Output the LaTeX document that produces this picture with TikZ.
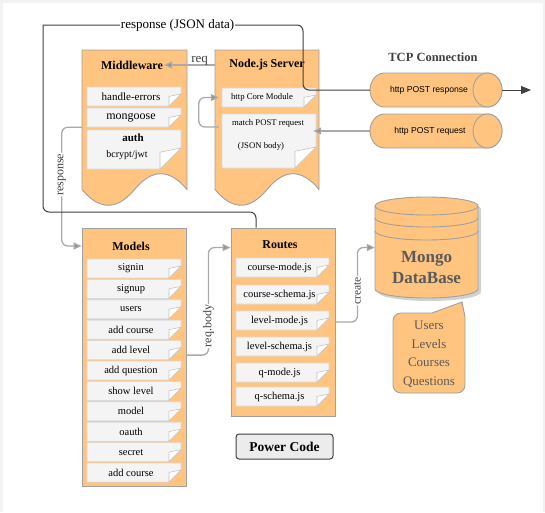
\documentclass[tikz,border=0pt]{standalone}
\usepackage{fontspec}
\setmainfont{Liberation Serif}
\newfontfamily\sansf{Liberation Sans}
\usetikzlibrary{arrows.meta,calc}
\definecolor{org}{HTML}{FFC47F}
\definecolor{orgline}{HTML}{A0A0A0}
\definecolor{itemfill}{HTML}{F4F4F4}
\definecolor{itemline}{HTML}{DADADA}
\definecolor{foldline}{HTML}{C4C4C4}
\definecolor{garr}{HTML}{AAAAAA}
\definecolor{darkl}{HTML}{404040}
\definecolor{dbtext}{HTML}{5A5A5A}
\newcommand\noteitem[7]{%
  \draw[itembox] ({#2-#4/2},{#3-#5/2}) -- ({#2+#4/2},{#3-#5/2}) -- ({#2+#4/2},{#3+#5/2-#6})
     -- ({#2+#4/2-#6},{#3+#5/2}) -- ({#2-#4/2},{#3+#5/2}) -- cycle;
  \draw[foldst] ({#2+#4/2},{#3+#5/2-#6}) -- ({#2+#4/2-#6},{#3+#5/2-0.8*#6}) -- ({#2+#4/2-#6},{#3+#5/2}) -- cycle;
  \node[itemtext, minimum width=#4, minimum height=#5] (#1) at ({#2-3},{#3}) {#7};
}
\newcommand\docshape[5]{%
  \draw[orgshape] (#1,#2) -- ({#1+#3},#2) -- ({#1+#3},{#2+#4-#5/2})
   .. controls ({#1+0.8333*#3},{#2+#4-1.1*#5}) and ({#1+0.6667*#3},{#2+#4-1.1*#5}) .. ({#1+0.5*#3},{#2+#4-#5/2})
   .. controls ({#1+0.3333*#3},{#2+#4+0.1*#5}) and ({#1+0.1667*#3},{#2+#4+0.1*#5}) .. (#1,{#2+#4-#5/2}) -- cycle;
}
\newcommand\hcyl[5]{%
  \draw[orgshape] ({#1-#3/2+#5},{#2-#4/2}) arc[start angle=90,end angle=270,x radius=#5pt,y radius={#4/2*1pt}]
     -- ({#1+#3/2-#5},{#2+#4/2}) arc[start angle=270,end angle=450,x radius=#5pt,y radius={#4/2*1pt}] -- cycle;
  \draw[orgshape] ({#1+#3/2-#5},#2) ellipse[x radius=#5pt,y radius={#4/2*1pt}];
}
\tikzset{
  orgshape/.style={fill=org, draw=orgline, line width=0.9pt},
  itembox/.style={fill=itemfill, draw=itemline, line width=0.7pt},
  foldst/.style={fill=white, draw=foldline, line width=0.6pt},
  itemtext/.style={inner sep=0pt, font=\fontsize{10.5}{12}\selectfont},
  ghost/.style={inner sep=0pt, draw=none, fill=none},
  title/.style={inner sep=1pt, font=\bfseries\fontsize{12}{14}\selectfont},
  garrow/.style={draw=garr, line width=1.3pt, -{Triangle[length=8pt,width=7pt,fill=garr!85!black]}, rounded corners=6pt},
  dline/.style={draw=darkl, line width=1pt},
  vlabel/.style={rotate=90, fill=white, inner sep=1pt, text=darkl, font=\fontsize{12}{14}\selectfont},
}
\begin{document}
\begin{tikzpicture}[x=1pt,y=-1pt]
\useasboundingbox (0,0) rectangle (545,512);
\fill[gray!10] (0,0) rectangle (545,512);
\fill[white] (2.5,2.5) rectangle (542.5,513);

% Middleware
\docshape{82}{50}{105}{157}{35}
\node[ghost, minimum width=105, minimum height=157] (mw) at (134.5,128.5) {};
\node[title] (mwt) at (132,65) {Middleware};
\noteitem{he}{134}{96.5}{94}{19}{12}{\fontsize{11}{12}\selectfont handle-errors}
\noteitem{mg}{134}{117.5}{94}{19}{12}{\fontsize{12}{13}\selectfont mongoose}
\noteitem{au}{134}{149.5}{94}{39}{21}{}
\node[inner sep=0pt, font=\bfseries\fontsize{11}{12}\selectfont] (aut) at (133,138) {auth};
\node[inner sep=0pt, font=\fontsize{10}{12}\selectfont] (bcr) at (127,155) {bcrypt/jwt};

% Node.js server
\docshape{215}{50}{104}{157}{35}
\node[ghost, minimum width=104, minimum height=157] (ns) at (267,128.5) {};
\node[title] (nst) at (267,65) {Node.js Server};
\noteitem{hc}{269}{97.5}{94}{19}{12}{\hspace*{-8pt}\fontsize{8.7}{10}\selectfont http Core Module}
\noteitem{mp}{269}{141}{94}{54}{21}{}
\node[inner sep=0pt, font=\fontsize{8.7}{10}\selectfont] (mpt) at (268,123) {match POST request};
\node[inner sep=0pt, font=\fontsize{8.7}{10}\selectfont] (jsb) at (261,146) {(JSON body)};

% TCP connection
\node[inner sep=0pt, text=darkl, font=\bfseries\fontsize{12.5}{14}\selectfont] (tcp) at (433,57) {TCP Connection};
\hcyl{436}{90}{132}{34}{14.5}
\node[ghost, minimum width=132, minimum height=34] (cr) at (436,90) {};
\node[inner sep=0pt, font=\sansf\fontsize{8.6}{10}\selectfont] (crt) at (429,90) {http POST response};
\hcyl{436}{131}{132}{34}{14.5}
\node[ghost, minimum width=132, minimum height=34] (cq) at (436,131) {};
\node[inner sep=0pt, font=\sansf\fontsize{8.6}{10}\selectfont] (cqt) at (430,131) {http POST request};

% Models
\node[orgshape, minimum width=104, minimum height=258, inner sep=0pt] (md) at (134,357) {};
\node[title] (mdt) at (131,246) {Models};
\foreach \t [count=\i] in {signin,signup,users,add course,add level,add question,show level,model,oauth,secret,add course}
  {\noteitem{m\i}{134}{268.5+20.4*(\i-1)}{94}{19}{12}{\t}}

% Routes
\node[orgshape, minimum width=104, minimum height=188, inner sep=0pt] (rt) at (283,322) {};
\node[title] (rtt) at (280,245) {Routes};
\foreach \t/\yy [count=\i] in {course-mode.js/267.5,course-schema.js/294.5,level-mode.js/320.5,level-schema.js/346.5,q-mode.js/372.5,q-schema.js/396.5}
  {\noteitem{r\i}{282.5}{\yy}{93}{19}{12}{\t}}

% Power Code
\node[draw=darkl, fill=gray!15, line width=1pt, rounded corners=3pt, minimum width=97, minimum height=25, inner sep=0pt,
  font=\bfseries\fontsize{13.5}{15}\selectfont] (pc) at (284.5,446.5) {Power Code};

% Mongo DB
\fill[black, opacity=0.18] (378,209) -- (378,292) arc[start angle=180,end angle=360,x radius=51.5pt,y radius=9pt] -- (481,209) arc[start angle=0,end angle=180,x radius=51.5pt,y radius=9pt] -- cycle;
\draw[orgshape] (375,206) -- (375,289) arc[start angle=180,end angle=360,x radius=51.5pt,y radius=9pt] -- (478,206) arc[start angle=0,end angle=180,x radius=51.5pt,y radius=9pt] -- cycle;
\draw[orgshape, fill=none] (375,206) arc[start angle=180,end angle=360,x radius=51.5pt,y radius=9pt];
\draw[orgshape, fill=none] (375,218) arc[start angle=180,end angle=360,x radius=51.5pt,y radius=9pt];
\draw[orgshape, fill=none] (375,231) arc[start angle=180,end angle=360,x radius=51.5pt,y radius=9pt];
\node[ghost, minimum width=103, minimum height=101] (db) at (426.5,247.5) {};
\node[inner sep=0pt, align=center, text=dbtext, font=\bfseries\fontsize{17}{21}\selectfont] (dbt) at (426.5,268) {Mongo\\DataBase};

% Callout
\draw[orgshape] (401,313) -- (432,313) -- (462,302) -- (465,317) -- (465,385)
  arc[start angle=0,end angle=-90,radius=8pt] -- (401,393)
  arc[start angle=-90,end angle=-180,radius=8pt] -- (393,321)
  arc[start angle=180,end angle=90,radius=8pt] -- cycle;
\node[inner sep=0pt, align=center, text=dbtext, font=\fontsize{13}{18.5}\selectfont] (co) at (429,354.5) {Users\\Levels\\Courses\\Questions};

% Connectors
\draw[garrow] (mwt.east -| ns.west) -- node[pos=0.3, above, inner sep=1pt, yshift=-2pt, text=darkl, font=\fontsize{13}{14}\selectfont] {req} (mwt.east);
\draw[garrow] ([yshift=14pt]mp.west) -- ++(-20,0) |- (hc.west);
\draw[garrow] (cq.west) -- (cq.west -| mp.east);
\draw[garrow] (mw.west |- mg.south) -- ++(-20,0) |- node[pos=0.2, vlabel] {response} (mdt -| md.west);
\draw[garrow] ($(m5.east -| md.east)+(0,5)$) -- ++(22,0) |- node[pos=0.135, vlabel] {req.body} ($(rt.north west)+(0,20)$);
\draw[garrow] ($(r3.east -| rt.east)+(0,1.5)$) -- ++(22,0) |- node[pos=0.21, vlabel, font=\fontsize{11.5}{13}\selectfont] {create} (db.west);

\draw[dline] ([xshift=-27pt]rt.north) [rounded corners=6pt] |- (43,212) [sharp corners] -- (43,25)
  -- node[pos=0.53, fill=white, inner sep=1pt, font=\fontsize{13}{15}\selectfont] {response (JSON data)} (297,25)
  arc[start angle=90,end angle=0,radius=6pt]
  [rounded corners=6pt] |- (cr.west);
\coordinate (outp) at (531,90);
\draw[dline, -{Triangle[length=10pt,width=8pt]}] (cr.east) -- (outp);
\end{tikzpicture}
\end{document}
